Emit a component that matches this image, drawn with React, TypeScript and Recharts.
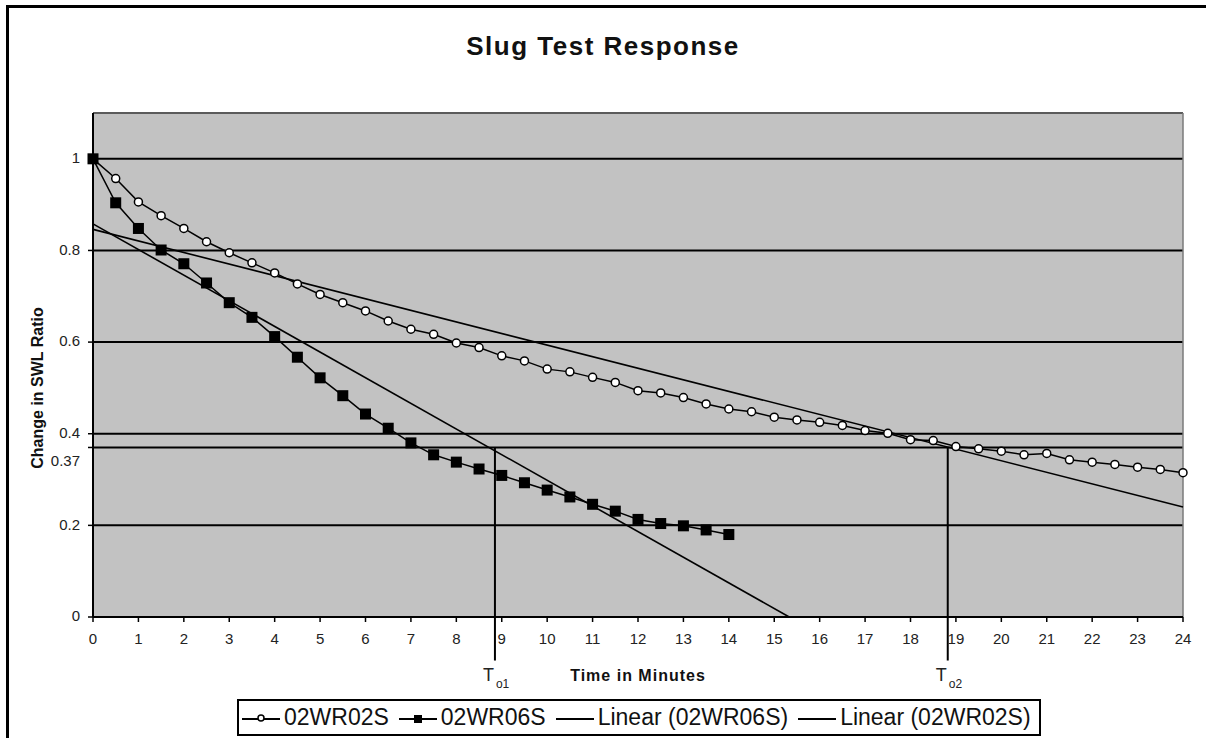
import React from "react";
import { LineChart, Line, XAxis, YAxis, CartesianGrid, ReferenceLine } from "recharts";

// 02WR02S readings (every half minute)
const wr02sTimes = [
  0, 0.5, 1, 1.5, 2, 2.5, 3, 3.5, 4, 4.5, 5, 5.5, 6, 6.5, 7, 7.5, 8, 8.5, 9, 9.5, 10, 10.5, 11, 11.5, 12,
  12.5, 13, 13.5, 14, 14.5, 15, 15.5, 16, 16.5, 17, 17.5, 18, 18.5, 19, 19.5, 20, 20.5, 21, 21.5, 22, 22.5,
  23, 23.5, 24,
];
const wr02sValues = [
  1.0, 0.957, 0.906, 0.876, 0.848, 0.819, 0.795, 0.773, 0.751, 0.727, 0.704, 0.686, 0.668, 0.646, 0.628,
  0.617, 0.598, 0.588, 0.57, 0.559, 0.541, 0.535, 0.523, 0.512, 0.494, 0.489, 0.479, 0.465, 0.454, 0.448,
  0.436, 0.43, 0.425, 0.418, 0.407, 0.401, 0.387, 0.385, 0.372, 0.367, 0.362, 0.354, 0.357, 0.343, 0.338,
  0.333, 0.327, 0.322, 0.315,
];

// 02WR06S readings
const wr06sTimes = [
  0, 0.5, 1, 1.5, 2, 2.5, 3, 3.5, 4, 4.5, 5, 5.5, 6, 6.5, 7, 7.5, 8, 8.5, 9, 9.5, 10, 10.5, 11, 11.5, 12,
  12.5, 13, 13.5, 14,
];
const wr06sValues = [
  1.0, 0.904, 0.848, 0.801, 0.771, 0.729, 0.686, 0.654, 0.612, 0.567, 0.522, 0.483, 0.443, 0.412, 0.38,
  0.354, 0.338, 0.323, 0.309, 0.293, 0.277, 0.262, 0.246, 0.231, 0.213, 0.204, 0.199, 0.19, 0.18,
];

// trendline end points
const trend06Times = [0, 15.33];
const trend06Values = [0.858, 0];
const trend02Times = [0, 24];
const trend02Values = [0.846, 0.24];

// T0 markers (time where trend hits 0.37)
const t0Times = [8.85, 18.82];
const t0Names = ["o1", "o2"];
const t0Level = 0.37;
const t0Bottom = -0.095;

const xTicks = [0, 1, 2, 3, 4, 5, 6, 7, 8, 9, 10, 11, 12, 13, 14, 15, 16, 17, 18, 19, 20, 21, 22, 23, 24];
const yTicks = [0, 0.2, 0.37, 0.4, 0.6, 0.8, 1];

const zip = (ts: number[], vs: number[]) => ts.map((t, i) => ({ t, v: vs[i] }));

const wr02s = zip(wr02sTimes, wr02sValues);
const wr06s = zip(wr06sTimes, wr06sValues);
const trend06 = zip(trend06Times, trend06Values);
const trend02 = zip(trend02Times, trend02Values);

const FONT = '"Liberation Sans", Arial, sans-serif';

const SquareDot = (props: any) => {
  const { cx, cy, index } = props;
  if (cx == null || cy == null) return <g key={`sq-${index}`} />;
  return <rect key={`sq-${index}`} x={cx - 5.5} y={cy - 5.5} width={11} height={11} fill="#000" />;
};

const YTick = (props: any) => {
  const { x, y, payload } = props;
  const shift = payload.value === 0.37 ? 13 : -1;
  return (
    <text x={x} y={y + shift} dy="0.35em" textAnchor="end" fontFamily={FONT} fontSize={15} fill="#222">
      {payload.value}
    </text>
  );
};

const T0Label = (name: string) => (props: any) => {
  const vb = props.viewBox || {};
  const x = vb.x;
  const bottom = vb.y + vb.height;
  return (
    <g>
      <text x={x - 1} y={bottom + 20} textAnchor="end" fontFamily={FONT} fontSize={18} fill="#222">
        T
      </text>
      <text x={x + 1} y={bottom + 27} fontFamily={FONT} fontSize={12} fill="#222">
        {name}
      </text>
    </g>
  );
};

const YLabel = (props: any) => {
  const vb = props.viewBox || {};
  const cx = 37;
  const cy = vb.y + vb.height / 2 + 23;
  return (
    <text
      x={cx}
      y={cy}
      transform={`rotate(-90, ${cx}, ${cy})`}
      textAnchor="middle"
      dominantBaseline="central"
      fontFamily={FONT}
      fontWeight="bold"
      fontSize={16}
      fill="#111"
    >
      Change in SWL Ratio
    </text>
  );
};

const XLabel = (props: any) => {
  const vb = props.viewBox || {};
  return (
    <text
      x={vb.x + vb.width / 2}
      y={vb.y + 64}
      textAnchor="middle"
      fontFamily={FONT}
      fontWeight="bold"
      fontSize={16}
      letterSpacing={1}
      fill="#111"
    >
      Time in Minutes
    </text>
  );
};

function LegendMarker({ kind }: { kind: "circle" | "square" | "line" }) {
  return (
    <svg width={38} height={20} style={{ marginRight: 4, flex: "none" }}>
      <line x1={0} y1={11} x2={38} y2={11} stroke="#000" strokeWidth={2} />
      {kind === "circle" && <circle cx={19} cy={10} r={3} fill="#fff" stroke="#000" strokeWidth={1.5} />}
      {kind === "square" && <rect x={15} y={7} width={8} height={8} fill="#000" />}
    </svg>
  );
}

const legendItems: { label: string; kind: "circle" | "square" | "line" }[] = [
  { label: "02WR02S", kind: "circle" },
  { label: "02WR06S", kind: "square" },
  { label: "Linear (02WR06S)", kind: "line" },
  { label: "Linear (02WR02S)", kind: "line" },
];

export default function App() {
  return (
    <div style={{ position: "relative", width: 1206, height: 738, background: "#fff", overflow: "hidden" }}>
      <style>{"html,body{margin:0;padding:0;overflow:hidden;background:#fff;}"}</style>
      <div
        style={{
          position: "absolute",
          top: 31,
          left: 0,
          width: 1206,
          textAlign: "center",
          fontFamily: FONT,
          fontWeight: "bold",
          fontSize: 26,
          letterSpacing: 1.5,
          color: "#111",
        }}
      >
        Slug Test Response
      </div>
      <div style={{ position: "absolute", left: 0, top: 0 }}>
        <LineChart width={1206} height={738} margin={{ top: 113, right: 23, bottom: 91, left: 0 }}>
          <CartesianGrid vertical={false} fill="#c2c2c2" fillOpacity={1} stroke="#000" strokeWidth={2} />
          <XAxis
            type="number"
            dataKey="t"
            domain={[0, 24]}
            ticks={xTicks}
            interval={0}
            height={30}
            tickSize={5}
            tickMargin={11}
            axisLine={{ stroke: "#000", strokeWidth: 2 }}
            tickLine={{ stroke: "#000", strokeWidth: 1.5 }}
            tick={{ fontFamily: FONT, fontSize: 15, fill: "#222" }}
            label={<XLabel />}
          />
          <YAxis
            type="number"
            domain={[0, 1.1]}
            ticks={yTicks}
            interval={0}
            width={93}
            tickSize={5}
            tickMargin={8}
            axisLine={{ stroke: "#000", strokeWidth: 2 }}
            tickLine={{ stroke: "#000", strokeWidth: 1.5 }}
            tick={<YTick />}
            label={<YLabel />}
          />
          <ReferenceLine y={1.1} stroke="#7a7a7a" strokeWidth={1.5} />
          <ReferenceLine x={24} stroke="#7a7a7a" strokeWidth={1.5} />
          <Line
            data={trend06}
            dataKey="v"
            type="linear"
            stroke="#000"
            strokeWidth={1.6}
            dot={false}
            activeDot={false}
            isAnimationActive={false}
          />
          <Line
            data={trend02}
            dataKey="v"
            type="linear"
            stroke="#000"
            strokeWidth={1.6}
            dot={false}
            activeDot={false}
            isAnimationActive={false}
          />
          <Line
            data={wr02s}
            dataKey="v"
            type="linear"
            stroke="#000"
            strokeWidth={1.5}
            dot={{ r: 4, fill: "#fff", stroke: "#000", strokeWidth: 1.5 }}
            activeDot={false}
            isAnimationActive={false}
          />
          <Line
            data={wr06s}
            dataKey="v"
            type="linear"
            stroke="#000"
            strokeWidth={1.5}
            dot={<SquareDot />}
            activeDot={false}
            isAnimationActive={false}
          />
          {t0Times.map((t, i) => (
            <ReferenceLine
              key={t0Names[i]}
              segment={[
                { x: t, y: t0Level },
                { x: t, y: t0Bottom },
              ]}
              ifOverflow="visible"
              stroke="#000"
              strokeWidth={2}
              label={T0Label(t0Names[i])}
            />
          ))}
        </LineChart>
      </div>
      <div
        style={{
          position: "absolute",
          left: 237,
          top: 699,
          width: 797,
          height: 33,
          border: "2px solid #000",
          display: "flex",
          alignItems: "center",
          paddingLeft: 3,
          fontFamily: FONT,
          fontSize: 23,
          color: "#111",
          background: "#fff",
          whiteSpace: "nowrap",
        }}
      >
        {legendItems.map((it) => (
          <div key={it.label} style={{ display: "flex", alignItems: "center", marginRight: 10 }}>
            <LegendMarker kind={it.kind} />
            <span>{it.label}</span>
          </div>
        ))}
      </div>
      {/* outer frame, only its top and left edges fall inside the picture */}
      <div
        style={{
          position: "absolute",
          left: 6,
          top: 5,
          right: 0,
          bottom: 0,
          borderLeft: "3px solid #000",
          borderTop: "3px solid #000",
          zIndex: 10,
          pointerEvents: "none",
        }}
      />
    </div>
  );
}
